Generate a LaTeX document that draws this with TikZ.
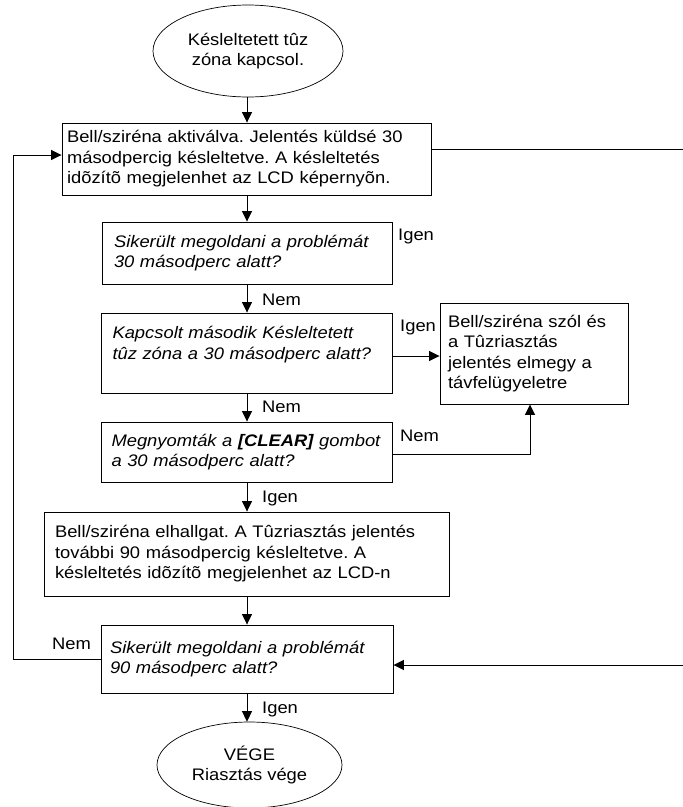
\documentclass[tikz,border=0pt]{standalone}
\usepackage{fontspec}
\setmainfont{Liberation Sans}[FakeStretch=1.1]
\usetikzlibrary{shapes.geometric,arrows.meta}
\frenchspacing
\begin{document}
\begin{tikzpicture}[x=1pt,y=-1pt,
  txt/.style={font=\frenchspacing\fontsize{16.7}{20.5}\selectfont},
  box/.style={txt, draw, line width=0.9pt, rectangle, align=left, inner ysep=0pt},
  dec/.style={box, font=\frenchspacing\fontsize{16.7}{20.5}\selectfont\itshape},
  oval/.style={txt, draw, ellipse, line width=0.7pt, align=center, inner sep=0pt},
  lbl/.style={txt, anchor=west, inner sep=0pt},
  conn/.style={line width=0.9pt, -{Triangle[length=10.5pt,width=10pt]}},
  plain/.style={line width=0.9pt}]
\useasboundingbox (0,0) rectangle (683,807);

\node[oval, minimum width=190pt, minimum height=92pt] (e1) at (248,51)
  {Késleltetett tûz\\zóna kapcsol.};

\node[box, text width=359pt, inner xsep=5pt, minimum height=72pt] (b1) at (246.5,159)
  {Bell/sziréna aktiválva. Jelentés küldsé 30\\másodpercig késleltetve. A késleltetés\\idõzítõ megjelenhet az LCD képernyõn.};

\node[dec, text width=266pt, inner xsep=12pt, minimum height=62pt] (d1) at (247,253)
  {Sikerült megoldani a problémát\\30 másodperc alatt?};

\node[dec, text width=269pt, inner xsep=11pt, minimum height=80pt] (d2) at (247,353)
  {Kapcsolt második Késleltetett\\tûz zóna a 30 másodperc alatt?\\\mbox{}};

\node[dec, text width=271pt, inner xsep=10pt, minimum height=60pt] (d3) at (247,452)
  {Megnyomták a \textbf{[CLEAR]} gombot\\a 30 másodperc alatt?};

\node[box, text width=383pt, inner xsep=11pt, minimum height=84pt] (b5) at (246.5,554)
  {Bell/sziréna elhallgat. A Tûzriasztás jelentés\\további 90 másodpercig késleltetve. A\\késleltetés idõzítõ megjelenhet az LCD-n};

\node[dec, text width=274pt, inner xsep=9pt, minimum height=68pt] (b7) at (247,659)
  {Sikerült megoldani a problémát\\90 másodperc alatt?};

\node[box, text width=172pt, inner xsep=8pt, minimum height=101pt] (b6) at (534,353.5)
  {Bell/sziréna szól és\\a Tûzriasztás\\jelentés elmegy a\\távfelügyeletre};

\node[oval, minimum width=185pt, minimum height=86pt] (e2) at (249.5,765)
  {VÉGE\\Riasztás vége};

% labels
\node[lbl] (l1) at (398,236) {Igen};
\node[lbl] (l2) at (262,300) {Nem};
\node[lbl] (l3) at (400,327) {Igen};
\node[lbl] (l4) at (262,407) {Nem};
\node[lbl] (l5) at (400,436) {Nem};
\node[lbl] (l6) at (262,498) {Igen};
\node[lbl] (l7) at (52,644) {Nem};
\node[lbl] (l8) at (262,709) {Igen};

% coordinates
\coordinate (r1) at (683,149);
\coordinate (r2) at (683,665);
\coordinate (lt) at (13,155);
\coordinate (lb) at (13,659);

% connectors
\draw[conn] (e1.south -| d1.north) -- (d1.north |- b1.north);
\draw[conn] (b1.south -| d1.north) -- (d1.north);
\draw[conn] (d1.south) -- (d2.north);
\draw[conn] (d2.south) -- (d3.north);
\draw[conn] (d3.south) -- (d3.south |- b5.north);
\draw[conn] (b5.south -| b7.north) -- (b7.north);
\draw[conn] (b7.south) -- (b7.south |- e2.north);
\draw[conn] ([yshift=-3pt]d2.east) -- ([yshift=-3pt]d2.east -| b6.west);
\draw[conn] ([yshift=-2pt]d3.east) -| ([xshift=-4pt]b6.south);
\draw[plain] (b1.east |- r1) -- (r1);
\draw[conn] (r2) -- (b7.east |- r2);
\draw[conn] (b7.west) -- (lb) -- (lt) -- (b1.west |- lt);
\end{tikzpicture}
\end{document}
